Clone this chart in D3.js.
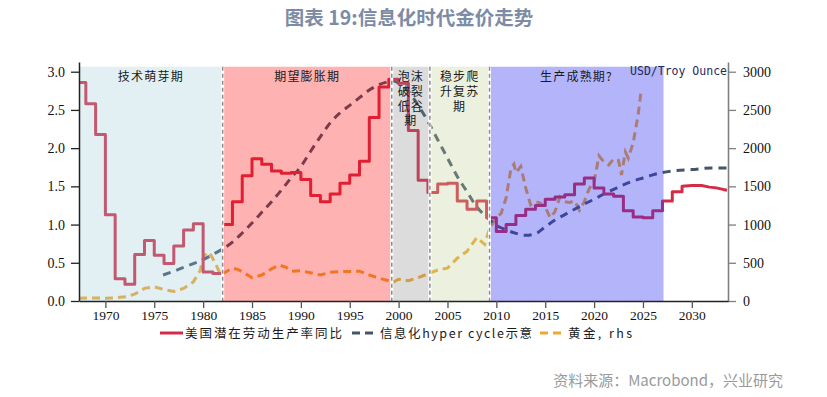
<!DOCTYPE html>
<html lang="zh">
<head>
<meta charset="utf-8">
<title>信息化时代金价走势</title>
<script src="https://cdn.jsdelivr.net/npm/d3@7/dist/d3.min.js"></script>
<style>
  body { margin: 0; background: #fff; }
  svg { display: block; }
</style>
</head>
<body>
<script>

// Productivity (yoy, annual steps, lhs)
var prodYears = d3.range(1967, 2030);
var prodValues = [2.86, 2.58, 2.18, 1.13, 0.29, 0.22, 0.61, 0.79, 0.60, 0.49,
                  0.72, 0.93, 1.01, 0.38, 0.36, 1.00, 1.30, 1.64, 1.86, 1.79,
                  1.70, 1.67, 1.68, 1.59, 1.38, 1.30, 1.40, 1.54, 1.65, 1.83,
                  2.40, 2.80, 2.90, 2.85, 2.23, 1.58, 1.42, 1.53, 1.54, 1.31,
                  1.20, 1.31, 1.09, 0.91, 1.00, 1.12, 1.20, 1.25, 1.33, 1.36,
                  1.39, 1.53, 1.61, 1.48, 1.40, 1.37, 1.18, 1.10, 1.09, 1.18,
                  1.31, 1.43, 1.50];
// smooth tail after the last step
var prodTailYears = [2029, 2030, 2031, 2031.8, 2032.5, 2033.2, 2033.6];
var prodTailValues = [1.50, 1.51, 1.51, 1.49, 1.48, 1.46, 1.45];

// Hyper cycle (lhs)
var hypeYears = [1975.9, 1977, 1978, 1979, 1980, 1981, 1982, 1983, 1984, 1985,
                 1986, 1987, 1988, 1989, 1990, 1991, 1992, 1993, 1994, 1995,
                 1996, 1997, 1998, 1999, 1999.5, 2000, 2001, 2002, 2003, 2004,
                 2005, 2006, 2007, 2008, 2009, 2010, 2011, 2012, 2013, 2014,
                 2015, 2016, 2017, 2018, 2019, 2020, 2021, 2022, 2023, 2024,
                 2025, 2026, 2027, 2028, 2030, 2032, 2033.7];
var hypeValues = [0.34, 0.39, 0.44, 0.49, 0.54, 0.61, 0.68, 0.77, 0.89, 1.02,
                  1.16, 1.30, 1.45, 1.61, 1.76, 1.96, 2.15, 2.33, 2.46, 2.56,
                  2.66, 2.76, 2.83, 2.87, 2.88, 2.85, 2.74, 2.56, 2.35, 2.11,
                  1.87, 1.63, 1.43, 1.23, 1.10, 0.99, 0.93, 0.885, 0.86, 0.88,
                  0.97, 1.06, 1.13, 1.20, 1.27, 1.33, 1.40, 1.46, 1.52, 1.57,
                  1.61, 1.65, 1.68, 1.70, 1.72, 1.74, 1.74];

// Gold, USD/Troy Ounce (rhs)
var goldYears = [1967.3, 1968, 1969, 1970, 1971, 1972, 1973, 1974, 1975, 1976,
                 1977, 1978, 1979, 1979.7, 1980, 1980.4, 1980.8, 1981.3, 1981.8, 1982.3,
                 1983, 1983.6, 1984.3, 1985, 1986, 1987, 1987.8, 1988.5, 1989, 1990,
                 1991, 1992, 1993, 1994, 1995, 1996, 1997, 1998, 1999, 1999.5,
                 2000, 2001, 2002, 2003, 2004, 2005, 2006, 2007, 2008, 2008.8,
                 2009.3, 2010, 2010.5, 2011, 2011.5, 2011.8, 2012, 2012.5, 2013, 2013.5,
                 2014, 2014.5, 2015, 2015.5, 2016, 2016.5, 2017, 2017.5, 2018, 2018.5,
                 2019, 2019.5, 2020, 2020.5, 2021, 2021.5, 2022, 2022.5, 2022.8, 2023.2,
                 2023.5, 2024, 2024.5, 2024.8];
var goldValues = [35, 38, 40, 36, 40, 55, 90, 165, 185, 150,
                  125, 165, 250, 400, 560, 640, 600, 480, 340, 380,
                  430, 410, 360, 305, 340, 420, 470, 440, 390, 395,
                  370, 340, 375, 385, 385, 390, 340, 300, 265, 250,
                  285, 265, 305, 355, 405, 430, 560, 650, 830, 740,
                  950, 1090, 1150, 1350, 1740, 1790, 1680, 1760, 1480, 1260,
                  1300, 1280, 1230, 1090, 1170, 1360, 1300, 1290, 1310, 1190,
                  1300, 1470, 1560, 1900, 1820, 1780, 1860, 1840, 1650, 1950,
                  1870, 2070, 2430, 2740];

// Phases
var phaseNames = [["技术萌芽期"], ["期望膨胀期"], ["泡沫", "破裂", "低谷", "期"],
                  ["稳步爬", "升复苏", "期"], ["生产成熟期?"]];
var phaseStart = [1967.3, 1982.0, 1999.3, 2003.2, 2009.3];
var phaseEnd   = [1982.0, 1999.3, 2003.2, 2009.3, 2027.1];
var phaseFill  = ["#9bc8d6", "#ff0000", "#808080", "#bcd091", "#2f2ff2"];
var phaseAlpha = [0.29, 0.30, 0.28, 0.30, 0.36];
var phaseDividers = [1982.0, 1999.3, 2003.2, 2009.3];

var leftTicks = [0, 0.5, 1.0, 1.5, 2.0, 2.5, 3.0];
var rightTicks = [0, 500, 1000, 1500, 2000, 2500, 3000];
var yearTicks = d3.range(1970, 2031, 5);

var w = 827, h = 397;
var plotLeft = 79, plotRight = 728, plotTop = 62, plotBottom = 301;

var red = "#d42c48", navy = "#44546a", gold = "#f0a830";

var svg = d3.select("body").append("svg")
  .attr("width", w)
  .attr("height", h);

var x = d3.scaleLinear().domain([1967.3, 2033.7]).range([plotLeft, plotRight]);
var yL = d3.scaleLinear().domain([0, 3.127]).range([plotBottom, plotTop]);
var yR = d3.scaleLinear().domain([0, 3127]).range([plotBottom, plotTop]);
var shadeTop = yL(3.065);

// title
svg.append("text")
  .attr("x", 409).attr("y", 25)
  .attr("text-anchor", "middle")
  .attr("font-family", "'Noto Sans CJK SC', sans-serif")
  .attr("font-weight", "bold")
  .attr("font-size", "19.5px")
  .attr("fill", "#7d8ca6")
  .text("图表 19:信息化时代金价走势");

svg.append("defs").append("clipPath").attr("id", "plot")
  .append("rect")
  .attr("x", plotLeft).attr("y", plotTop)
  .attr("width", plotRight - plotLeft).attr("height", plotBottom - plotTop);

var g = svg.append("g").attr("clip-path", "url(#plot)");

// lines first, shading goes over them
var goldData = goldYears.map(function(d, i) { return [d, goldValues[i]]; });
g.append("path")
  .attr("d", d3.line().x(function(d) { return x(d[0]); }).y(function(d) { return yR(d[1]); })(goldData))
  .attr("fill", "none")
  .attr("stroke", gold)
  .attr("stroke-width", 3)
  .attr("stroke-dasharray", "8,5");

var hypeData = hypeYears.map(function(d, i) { return [d, hypeValues[i]]; });
g.append("path")
  .attr("d", d3.line().curve(d3.curveMonotoneX).x(function(d) { return x(d[0]); }).y(function(d) { return yL(d[1]); })(hypeData))
  .attr("fill", "none")
  .attr("stroke", navy)
  .attr("stroke-width", 3)
  .attr("stroke-dasharray", "8,6");

var prodData = prodYears.map(function(d, i) { return [d, prodValues[i]]; });
var tailData = prodTailYears.map(function(d, i) { return [d, prodTailValues[i]]; });
var lineL = d3.line().x(function(d) { return x(d[0]); }).y(function(d) { return yL(d[1]); });
var stepPath = lineL.curve(d3.curveStepAfter)(prodData);
var tailPath = lineL.curve(d3.curveLinear)(tailData).replace(/^M/, "L");
g.append("path")
  .attr("d", stepPath + tailPath)
  .attr("fill", "none")
  .attr("stroke", red)
  .attr("stroke-width", 3)
  .attr("stroke-linejoin", "round");

// phase shading
var phases = phaseNames.map(function(n, i) {
  return { name: n, x0: phaseStart[i], x1: phaseEnd[i], fill: phaseFill[i], a: phaseAlpha[i] };
});
svg.selectAll("rect.phase")
  .data(phases)
  .enter()
  .append("rect")
  .attr("class", "phase")
  .attr("x", function(d) { return x(d.x0); })
  .attr("y", shadeTop)
  .attr("width", function(d) { return x(d.x1) - x(d.x0); })
  .attr("height", plotBottom - shadeTop)
  .attr("fill", function(d) { return d.fill; })
  .attr("fill-opacity", function(d) { return d.a; });

// dividers
phaseDividers.forEach(function(yr) {
  svg.append("line")
    .attr("x1", x(yr)).attr("x2", x(yr))
    .attr("y1", shadeTop).attr("y2", plotBottom)
    .attr("stroke", "#fff").attr("stroke-width", 3);
  svg.append("line")
    .attr("x1", x(yr)).attr("x2", x(yr))
    .attr("y1", shadeTop).attr("y2", plotBottom)
    .attr("stroke", "#8c8c8c").attr("stroke-width", 1.5)
    .attr("stroke-dasharray", "4,3");
});

// phase labels
phases.forEach(function(d) {
  var t = svg.append("text")
    .attr("font-family", "'Noto Sans CJK SC', sans-serif")
    .attr("font-size", "12px")
    .attr("letter-spacing", "1.2px")
    .attr("fill", "#1a1a1a")
    .attr("text-anchor", "middle");
  d.name.forEach(function(line, k) {
    t.append("tspan")
      .attr("x", (x(d.x0) + x(d.x1)) / 2)
      .attr("y", 81 + k * 14.8)
      .text(line);
  });
});

svg.append("text")
  .attr("x", 727).attr("y", 75)
  .attr("text-anchor", "end")
  .attr("font-family", "'DejaVu Sans Mono', monospace")
  .attr("font-size", "11.5px")
  .attr("fill", "#1f2b5e")
  .text("USD/Troy Ounce");

// axes
var axisFont = "'Liberation Serif', 'Times New Roman', serif";

var axL = svg.append("g")
  .attr("transform", "translate(" + plotLeft + ",0)")
  .call(d3.axisLeft(yL).tickValues(leftTicks).tickFormat(d3.format(".1f"))
        .tickSize(8).tickSizeOuter(0).tickPadding(6));
axL.select(".domain").attr("stroke", "#222").attr("stroke-width", 1.5);
axL.selectAll(".tick line").attr("stroke", "#222").attr("stroke-width", 1.3);

var axR = svg.append("g")
  .attr("transform", "translate(" + plotRight + ",0)")
  .call(d3.axisRight(yR).tickValues(rightTicks).tickFormat(d3.format("d"))
        .tickSize(8).tickSizeOuter(0).tickPadding(7));
axR.select(".domain").attr("stroke", "#7f7f7f").attr("stroke-width", 1.6);
axR.selectAll(".tick line").attr("stroke", "#7f7f7f").attr("stroke-width", 1.3);

var axB = svg.append("g")
  .attr("transform", "translate(0," + plotBottom + ")")
  .call(d3.axisBottom(x).tickValues(yearTicks).tickFormat(d3.format("d"))
        .tickSize(7).tickSizeOuter(0).tickPadding(2));
axB.select(".domain").attr("stroke", "#222").attr("stroke-width", 1.5);
axB.selectAll(".tick line").attr("stroke", "#555").attr("stroke-width", 1.3);

[axL, axR, axB].forEach(function(a) {
  a.selectAll("text")
    .attr("font-family", axisFont)
    .attr("font-size", "14px")
    .attr("fill", "#111");
});
axB.selectAll("text").attr("font-size", "13.5px");

// legend
var legend = [
  { label: "美国潜在劳动生产率同比", color: red, dash: null, x0: 160, tx: 185, tw: 157 },
  { label: "信息化hyper cycle示意", color: navy, dash: "8,5", x0: 352, tx: 380, tw: 152 },
  { label: "黄金, rhs", color: gold, dash: "8,5", x0: 540, tx: 568, tw: 64 }
];
var ly = 333;
legend.forEach(function(d) {
  svg.append("line")
    .attr("x1", d.x0).attr("x2", d.x0 + 23)
    .attr("y1", ly).attr("y2", ly)
    .attr("stroke", d.color)
    .attr("stroke-width", 3)
    .attr("stroke-dasharray", d.dash);
  svg.append("text")
    .attr("x", d.tx).attr("y", ly + 4.5)
    .attr("font-family", "'Noto Sans CJK SC', sans-serif")
    .attr("font-size", "12.5px")
    .attr("fill", "#1a1a1a")
    .attr("textLength", d.tw)
    .attr("lengthAdjust", "spacing")
    .text(d.label);
});

// source
svg.append("text")
  .attr("x", 783).attr("y", 386)
  .attr("text-anchor", "end")
  .attr("font-family", "'Noto Sans CJK SC', sans-serif")
  .attr("font-size", "15px")
  .attr("fill", "#9a9a9a")
  .text("资料来源：Macrobond，兴业研究");

</script>
</body>
</html>
